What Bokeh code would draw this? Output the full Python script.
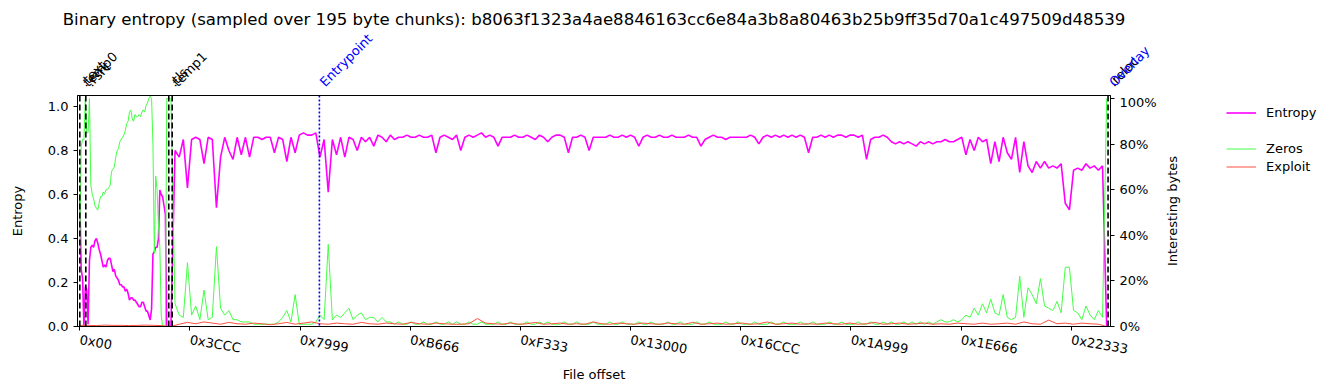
import math
from bokeh.plotting import figure
from bokeh.layouts import column, row
from bokeh.models import (Range1d, LinearAxis, FixedTicker, NumeralTickFormatter,
                          Span, Label, Legend, LegendItem)
from bokeh.embed import file_html
from bokeh.resources import INLINE

TITLE = ("Binary entropy (sampled over 195 byte chunks): "
         "b8063f1323a4ae8846163cc6e84a3b8a80463b25b9ff35d70a1c497509d48539")
CHUNK = 195

# sampling grid (chunk indices): fine at the start, every 3rd chunk afterwards
head_chunks = list(range(0, 67))
tail_chunks = list(range(69, 745, 3))
exploit_chunks = list(range(0, 745, 6))

entropy_head = [
    0.60, 0.26, 0.22, 0.00, 0.18, 0.17, 0.01, 0.30, 0.36, 0.37,
    0.36, 0.39, 0.40, 0.38, 0.35, 0.33, 0.30, 0.27, 0.28, 0.27,
    0.30, 0.31, 0.31, 0.28, 0.25, 0.26, 0.23, 0.22, 0.21, 0.19,
    0.19, 0.18, 0.18, 0.16, 0.17, 0.15, 0.12, 0.13, 0.13, 0.12,
    0.12, 0.11, 0.10, 0.09, 0.09, 0.11, 0.11, 0.09, 0.07, 0.07,
    0.05, 0.03, 0.08, 0.33, 0.34, 0.36, 0.36, 0.40, 0.62, 0.60,
    0.59, 0.55, 0.51, 0.00, 0.00, 0.00, 0.00,
]
entropy_tail = [
    0.80, 0.77, 0.85, 0.63, 0.85, 0.86, 0.85, 0.74, 0.86, 0.85,
    0.54, 0.77, 0.86, 0.80, 0.76, 0.86, 0.78, 0.86, 0.77, 0.86,
    0.86, 0.85, 0.86, 0.86, 0.79, 0.86, 0.85, 0.75, 0.86, 0.79,
    0.87, 0.88, 0.87, 0.87, 0.88, 0.77, 0.85, 0.61, 0.85, 0.78,
    0.86, 0.77, 0.86, 0.85, 0.80, 0.86, 0.84, 0.86, 0.82, 0.87,
    0.86, 0.84, 0.87, 0.85, 0.86, 0.86, 0.87, 0.86, 0.86, 0.87,
    0.86, 0.86, 0.87, 0.79, 0.86, 0.87, 0.86, 0.85, 0.87, 0.80,
    0.86, 0.87, 0.86, 0.87, 0.88, 0.86, 0.87, 0.86, 0.82, 0.86,
    0.86, 0.86, 0.87, 0.86, 0.86, 0.87, 0.86, 0.85, 0.87, 0.86,
    0.84, 0.86, 0.87, 0.87, 0.86, 0.79, 0.86, 0.86, 0.87, 0.86,
    0.80, 0.86, 0.86, 0.86, 0.86, 0.87, 0.86, 0.86, 0.87, 0.86,
    0.87, 0.86, 0.82, 0.86, 0.87, 0.86, 0.86, 0.87, 0.86, 0.86,
    0.87, 0.86, 0.86, 0.86, 0.87, 0.86, 0.86, 0.82, 0.85, 0.86,
    0.87, 0.86, 0.86, 0.85, 0.86, 0.86, 0.86, 0.86, 0.86, 0.87,
    0.86, 0.83, 0.86, 0.87, 0.86, 0.87, 0.86, 0.87, 0.86, 0.87,
    0.86, 0.87, 0.86, 0.79, 0.86, 0.86, 0.87, 0.86, 0.87, 0.86,
    0.87, 0.87, 0.86, 0.87, 0.87, 0.86, 0.87, 0.76, 0.85, 0.86,
    0.86, 0.87, 0.86, 0.84, 0.83, 0.84, 0.83, 0.84, 0.83, 0.82,
    0.84, 0.83, 0.84, 0.83, 0.84, 0.84, 0.85, 0.84, 0.84, 0.85,
    0.86, 0.78, 0.85, 0.80, 0.86, 0.84, 0.85, 0.74, 0.84, 0.75,
    0.86, 0.79, 0.76, 0.86, 0.70, 0.84, 0.73, 0.70, 0.75, 0.72,
    0.75, 0.72, 0.73, 0.72, 0.74, 0.56, 0.53, 0.71, 0.72, 0.71,
    0.74, 0.72, 0.73, 0.71, 0.73, 0.00,
]

zeros_head = [
    0.33, 0.79, 0.82, 0.82, 1.00, 0.85, 0.85, 1.00, 0.62, 0.58,
    0.56, 0.53, 0.52, 0.51, 0.54, 0.57, 0.57, 0.59, 0.58, 0.60,
    0.60, 0.61, 0.62, 0.68, 0.69, 0.70, 0.74, 0.77, 0.78, 0.81,
    0.82, 0.83, 0.84, 0.86, 0.89, 0.90, 0.94, 0.95, 0.91, 0.90,
    0.93, 0.92, 0.92, 0.93, 0.92, 0.94, 0.95, 0.94, 0.97, 0.98,
    1.00, 1.01, 1.00, 0.80, 0.32, 0.66, 0.60, 0.44, 0.35, 0.05,
    0.00, 0.00, 0.00, 1.00, 1.00, 1.00, 1.00,
]
zeros_tail = [
    0.10, 0.05, 0.04, 0.28, 0.05, 0.09, 0.03, 0.16, 0.03, 0.04,
    0.35, 0.08, 0.05, 0.07, 0.03, 0.03, 0.02, 0.02, 0.02, 0.01,
    0.01, 0.01, 0.01, 0.01, 0.01, 0.02, 0.04, 0.07, 0.02, 0.14,
    0.01, 0.01, 0.01, 0.01, 0.02, 0.05, 0.03, 0.36, 0.03, 0.05,
    0.04, 0.06, 0.08, 0.03, 0.05, 0.06, 0.03, 0.04, 0.04, 0.02,
    0.04, 0.02, 0.02, 0.01, 0.02, 0.01, 0.01, 0.02, 0.01, 0.01,
    0.02, 0.01, 0.01, 0.02, 0.01, 0.01, 0.02, 0.01, 0.02, 0.01,
    0.01, 0.02, 0.01, 0.01, 0.02, 0.01, 0.01, 0.01, 0.02, 0.01,
    0.01, 0.02, 0.01, 0.01, 0.01, 0.02, 0.01, 0.01, 0.02, 0.01,
    0.02, 0.01, 0.01, 0.01, 0.02, 0.01, 0.01, 0.02, 0.01, 0.01,
    0.01, 0.02, 0.01, 0.01, 0.01, 0.02, 0.01, 0.01, 0.02, 0.01,
    0.01, 0.01, 0.02, 0.01, 0.01, 0.02, 0.01, 0.01, 0.01, 0.02,
    0.01, 0.01, 0.02, 0.01, 0.01, 0.01, 0.02, 0.01, 0.01, 0.02,
    0.01, 0.01, 0.01, 0.02, 0.01, 0.01, 0.02, 0.01, 0.01, 0.01,
    0.02, 0.01, 0.01, 0.01, 0.02, 0.01, 0.01, 0.02, 0.01, 0.01,
    0.01, 0.02, 0.01, 0.01, 0.02, 0.01, 0.01, 0.01, 0.02, 0.01,
    0.01, 0.02, 0.01, 0.01, 0.01, 0.02, 0.01, 0.01, 0.02, 0.01,
    0.01, 0.02, 0.01, 0.02, 0.01, 0.01, 0.02, 0.01, 0.02, 0.01,
    0.02, 0.01, 0.02, 0.01, 0.02, 0.03, 0.02, 0.02, 0.03, 0.02,
    0.03, 0.05, 0.04, 0.08, 0.05, 0.10, 0.06, 0.12, 0.06, 0.05,
    0.14, 0.04, 0.03, 0.04, 0.22, 0.04, 0.17, 0.14, 0.10, 0.21,
    0.09, 0.08, 0.07, 0.11, 0.06, 0.26, 0.26, 0.07, 0.06, 0.03,
    0.09, 0.05, 0.03, 0.07, 0.04, 1.00,
]

exploit = [
    0.005, 0.005, 0.004, 0.006, 0.005, 0.005, 0.004, 0.005, 0.006, 0.005,
    0.004, 0.000, 0.010, 0.018, 0.012, 0.020, 0.015, 0.010, 0.018, 0.012,
    0.010, 0.015, 0.012, 0.008, 0.012, 0.018, 0.010, 0.015, 0.020, 0.012,
    0.010, 0.015, 0.012, 0.010, 0.018, 0.012, 0.010, 0.015, 0.012, 0.010,
    0.018, 0.012, 0.010, 0.015, 0.012, 0.010, 0.010, 0.012, 0.035, 0.015,
    0.012, 0.010, 0.015, 0.010, 0.012, 0.018, 0.010, 0.012, 0.015, 0.010,
    0.012, 0.010, 0.020, 0.012, 0.010, 0.015, 0.012, 0.010, 0.015, 0.012,
    0.010, 0.015, 0.012, 0.010, 0.018, 0.010, 0.012, 0.015, 0.010, 0.012,
    0.015, 0.010, 0.012, 0.020, 0.010, 0.012, 0.015, 0.010, 0.012, 0.010,
    0.015, 0.012, 0.010, 0.015, 0.010, 0.012, 0.018, 0.010, 0.012, 0.015,
    0.010, 0.012, 0.015, 0.010, 0.012, 0.010, 0.015, 0.012, 0.010, 0.015,
    0.010, 0.012, 0.015, 0.010, 0.020, 0.012, 0.010, 0.028, 0.012, 0.015,
    0.010, 0.015, 0.012, 0.010, 0.000,
]

x_ticks = [0, 15564, 31129, 46694, 62259, 77824, 93388, 108953, 124518, 140083]
x_tick_labels = ["0x00", "0x3CCC", "0x7999", "0xB666", "0xF333", "0x13000",
                 "0x16CCC", "0x1A999", "0x1E666", "0x22333"]
entropy_ticks = [0.0, 0.2, 0.4, 0.6, 0.8, 1.0]
pct_ticks = [0.0, 0.2, 0.4, 0.6, 0.8, 1.0]

# section / marker lines: (offset, label, colour, style)
markers = [
    (0, ".text", "black", "dashed"),
    (400, "temp0", "black", None),
    (850, ".rsrc", "black", "dashed"),
    (12570, ".tls", "black", "dashed"),
    (13050, "temp1", "black", "dashed"),
    (33850, "Entrypoint", "blue", "dotted"),
    (145275, ".reloc", "black", "dashed"),
    (145400, "Overlay", "blue", None),
]

FONT = "DejaVu Sans"
W = 1335
LEFT, RIGHT_MAIN = 77, 225
LEG_W = 170
TOP_H, MAIN_H = 94, 296
X0, X1 = -325, 145620

x_main = [c * CHUNK for c in head_chunks + tail_chunks]
entropy = entropy_head + entropy_tail
zeros = zeros_head + zeros_tail
x_exploit = [c * CHUNK for c in exploit_chunks]

ENT_STYLE = dict(line_color="#ff00ff", line_width=1.6)
ZER_STYLE = dict(line_color="#44ff44", line_width=1.0)
EXP_STYLE = dict(line_color="#ff5040", line_width=1.0)

# ---------- header strip: title + section labels (same x scale as main) ----------
main_frame_w = W - LEFT - RIGHT_MAIN
per_px = (X1 - X0) / main_frame_w
top = figure(width=W, height=TOP_H, output_backend="svg", toolbar_location=None,
             x_range=Range1d(X0 - LEFT * per_px, X0 + (W - LEFT) * per_px),
             y_range=Range1d(0, TOP_H),
             x_axis_type=None, y_axis_type=None, title=None,
             min_border_left=0, min_border_right=0, min_border_top=0,
             min_border_bottom=0)
top.grid.visible = False
top.outline_line_color = None
top.add_layout(Label(x=(X0 + X1) / 2, y=TOP_H - 19, text=TITLE, text_align="center",
                     text_baseline="middle", text_font=FONT, text_font_size="16.6px",
                     text_color="black"))
for off, lab, col, style in markers:
    top.add_layout(Label(x=off, y=5, text=lab, angle=math.radians(45),
                         text_align="left", text_baseline="bottom",
                         x_offset=8, text_color=col,
                         text_font=FONT, text_font_size="13px"))

# ---------- main plot ----------
p = figure(width=W - LEG_W, height=MAIN_H, output_backend="svg", toolbar_location=None,
           x_range=Range1d(X0, X1), y_range=Range1d(0, 1.05), title=None,
           min_border_left=LEFT, min_border_right=RIGHT_MAIN - LEG_W, min_border_top=1,
           min_border_bottom=64)
p.extra_y_ranges = {"pct": Range1d(0, 1.013)}

p.grid.visible = False
p.outline_line_color = "black"
p.outline_line_alpha = 1
p.outline_line_width = 1

p.line(x_main, entropy, **ENT_STYLE)
p.line(x_main, zeros, y_range_name="pct", **ZER_STYLE)
p.line(x_exploit, exploit, y_range_name="pct", **EXP_STYLE)

right_axis = LinearAxis(y_range_name="pct",
                        ticker=FixedTicker(ticks=pct_ticks),
                        formatter=NumeralTickFormatter(format="0%"))
p.add_layout(right_axis, "right")

p.xaxis.ticker = FixedTicker(ticks=x_ticks)
p.xaxis.major_label_overrides = {t: l for t, l in zip(x_ticks, x_tick_labels)}
p.xaxis.major_label_orientation = -0.17
p.xaxis.major_label_standoff = 9
p.xaxis.axis_label = "File offset"
p.xaxis.axis_label_standoff = 0
p.yaxis[0].ticker = FixedTicker(ticks=entropy_ticks)
p.yaxis[0].formatter = NumeralTickFormatter(format="0.0")
p.yaxis[0].axis_label = "Entropy"
p.yaxis[0].axis_label_standoff = 20

for ax in p.axis:
    ax.axis_line_color = "black"
    ax.major_tick_line_color = "black"
    ax.major_tick_out = 4
    ax.major_tick_in = 0
    ax.minor_tick_line_color = None
    ax.major_label_text_font = FONT
    ax.major_label_text_font_size = "13px"
    ax.major_label_text_color = "black"
    ax.axis_label_text_font = FONT
    ax.axis_label_text_font_size = "13px"
    ax.axis_label_text_font_style = "normal"
    ax.axis_label_text_color = "black"

dash = {"dashed": "6 3", "dotted": "2 2"}
for off, lab, col, style in markers:
    if style is not None:
        p.add_layout(Span(location=off, dimension="height", line_color=col,
                          line_dash=dash[style], line_width=1.6))

# ---------- right strip: secondary-axis title + legend ----------
lg = figure(width=LEG_W, height=MAIN_H, output_backend="svg", toolbar_location=None,
            x_range=Range1d(0, LEG_W), y_range=Range1d(0, 1), x_axis_type=None,
            y_axis_type=None, title=None, min_border_left=0, min_border_right=0,
            min_border_top=0, min_border_bottom=0)
lg.grid.visible = False
lg.outline_line_color = None
lg.add_layout(Label(x=7, y=0.5, text="Interesting bytes", angle=math.pi / 2,
                    text_align="center", text_baseline="middle", text_font=FONT,
                    text_font_size="13px", text_color="black"))
# legend-only proxies, placed outside the visible range of this strip
proxy_x, proxy_y = [-20, -10], [0.5, 0.5]
g_e = lg.line(proxy_x, proxy_y, **ENT_STYLE)
g_b = lg.line(proxy_x, proxy_y, line_alpha=0)
g_z = lg.line(proxy_x, proxy_y, **ZER_STYLE)
g_x = lg.line(proxy_x, proxy_y, **EXP_STYLE)
legend = Legend(items=[LegendItem(label="Entropy", renderers=[g_e]),
                       LegendItem(label=" ", renderers=[g_b]),
                       LegendItem(label="Zeros", renderers=[g_z]),
                       LegendItem(label="Exploit", renderers=[g_x])],
                location=(61, 151), border_line_color=None, background_fill_alpha=0,
                padding=0, margin=0, spacing=1, glyph_width=30, glyph_height=17,
                label_height=17, label_standoff=10, label_text_font=FONT,
                label_text_font_size="13px", label_text_color="black")
lg.add_layout(legend)

layout = column(top, row(p, lg, spacing=0), spacing=0)
open("out.html", "w").write(file_html(layout, INLINE))
